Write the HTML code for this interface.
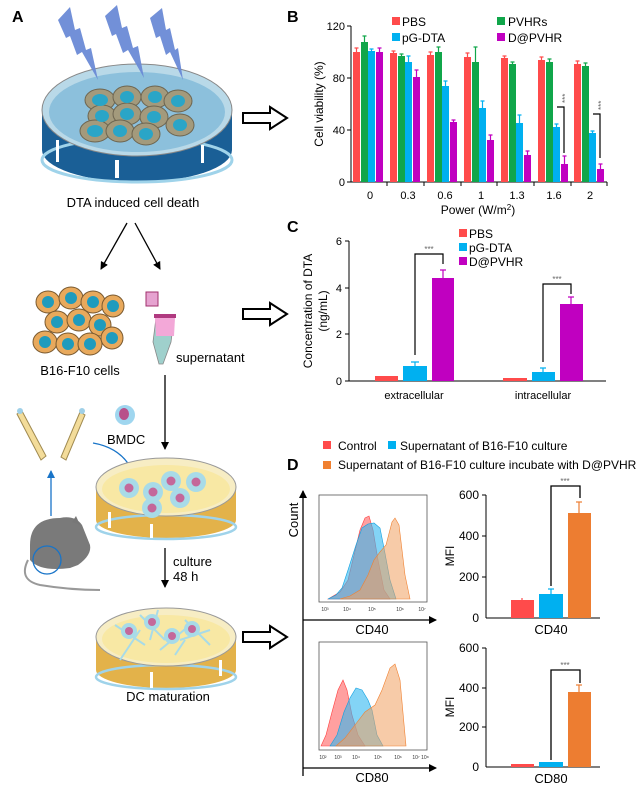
<!DOCTYPE html>
<html><head><meta charset="utf-8"><style>
html,body{margin:0;padding:0;background:#fff}
svg{display:block;font-family:"Liberation Sans",Arial,sans-serif}
</style></head><body>
<svg width="639" height="793" viewBox="0 0 639 793" xmlns="http://www.w3.org/2000/svg">
<defs>
<marker id="ah" markerWidth="8" markerHeight="8" refX="7" refY="4" orient="auto" markerUnits="userSpaceOnUse"><path d="M0,0 L8,4 L0,8 Z" fill="#000"/></marker>
<marker id="ahb" markerWidth="8" markerHeight="8" refX="7" refY="4" orient="auto" markerUnits="userSpaceOnUse"><path d="M0,0 L8,4 L0,8 Z" fill="#1874c8"/></marker>
</defs>
<text x="12" y="22" font-size="16" font-weight="bold">A</text>
<text x="287" y="22" font-size="16" font-weight="bold">B</text>
<text x="287" y="232" font-size="16" font-weight="bold">C</text>
<text x="287" y="470" font-size="16" font-weight="bold">D</text>

<path d="M42,112 L42,150 A95,32 0 0 0 232,150 L232,112 Z" fill="#1a5f96"/>
<ellipse cx="137" cy="160" rx="95" ry="22" fill="none" stroke="#9fd3ea" stroke-width="3"/>
<rect x="56" y="140" width="3" height="22" fill="#fff"/><rect x="115" y="160" width="4" height="18" fill="#fff"/><rect x="201" y="145" width="3" height="18" fill="#fff"/>
<ellipse cx="137" cy="110" rx="95" ry="46" fill="#b9d9e8" stroke="#888" stroke-width="1"/>
<ellipse cx="137" cy="112" rx="88" ry="40" fill="#8cc0dc"/>
<g fill="#a39a7c" stroke="#6d6550" stroke-width="1">
<ellipse cx="100" cy="100" rx="15" ry="11"/><ellipse cx="127" cy="97" rx="14" ry="11"/><ellipse cx="155" cy="97" rx="14" ry="11"/><ellipse cx="178" cy="101" rx="14" ry="11"/>
<ellipse cx="102" cy="116" rx="14" ry="11"/><ellipse cx="127" cy="114" rx="14" ry="11"/><ellipse cx="154" cy="117" rx="14" ry="11"/><ellipse cx="180" cy="125" rx="14" ry="11"/>
<ellipse cx="95" cy="131" rx="15" ry="11"/><ellipse cx="120" cy="131" rx="14" ry="11"/><ellipse cx="146" cy="134" rx="14" ry="11"/>
</g>
<g fill="#2aa5c7">
<ellipse cx="100" cy="100" rx="8" ry="6"/><ellipse cx="127" cy="97" rx="7" ry="6"/><ellipse cx="155" cy="97" rx="7" ry="6"/><ellipse cx="178" cy="101" rx="7" ry="6"/>
<ellipse cx="102" cy="116" rx="7" ry="6"/><ellipse cx="127" cy="114" rx="7" ry="6"/><ellipse cx="154" cy="117" rx="7" ry="6"/><ellipse cx="180" cy="125" rx="7" ry="6"/>
<ellipse cx="95" cy="131" rx="8" ry="6"/><ellipse cx="120" cy="131" rx="7" ry="6"/><ellipse cx="146" cy="134" rx="7" ry="6"/>
</g>
<g fill="#6b8bd6" opacity="0.95">
<path d="M58,20 L70,7 L75,30 L80,28 L86,50 L91,48 L98,80 L82,52 L77,55 L70,36 L66,38 Z"/>
<path d="M105,16 L117,5 L122,28 L127,26 L133,48 L138,46 L144,78 L128,50 L123,53 L116,34 L112,36 Z"/>
<path d="M150,18 L162,8 L166,30 L170,28 L175,50 L178,48 L183,80 L170,52 L166,55 L160,36 L156,38 Z"/>
</g>
<text x="133" y="207" font-size="13" text-anchor="middle">DTA induced cell death</text>
<line x1="127" y1="223" x2="101" y2="269" stroke="#000" stroke-width="1.3" marker-end="url(#ah)"/>
<line x1="135" y1="223" x2="160" y2="269" stroke="#000" stroke-width="1.3" marker-end="url(#ah)"/>
<g fill="#e8a95c" stroke="#7a5a30" stroke-width="1">
<ellipse cx="48" cy="302" rx="12" ry="11"/><ellipse cx="71" cy="298" rx="12" ry="11"/><ellipse cx="93" cy="302" rx="12" ry="11"/><ellipse cx="113" cy="306" rx="11" ry="11"/>
<ellipse cx="57" cy="322" rx="12" ry="11"/><ellipse cx="79" cy="320" rx="12" ry="11"/><ellipse cx="100" cy="325" rx="11" ry="11"/>
<ellipse cx="45" cy="342" rx="12" ry="11"/><ellipse cx="68" cy="344" rx="12" ry="11"/><ellipse cx="90" cy="344" rx="12" ry="11"/><ellipse cx="112" cy="338" rx="11" ry="11"/>
</g>
<g fill="#1f9bbd">
<circle cx="48" cy="302" r="6"/><circle cx="71" cy="298" r="6"/><circle cx="93" cy="302" r="6"/><circle cx="113" cy="306" r="6"/>
<circle cx="57" cy="322" r="6"/><circle cx="79" cy="320" r="6"/><circle cx="100" cy="325" r="6"/>
<circle cx="45" cy="342" r="6"/><circle cx="68" cy="344" r="6"/><circle cx="90" cy="344" r="6"/><circle cx="112" cy="338" r="6"/>
</g>
<text x="80" y="375" font-size="13" text-anchor="middle">B16-F10 cells</text>
<rect x="146" y="292" width="12" height="14" fill="#e6a3d0" stroke="#a0306c" stroke-width="1"/>
<path d="M156,318 L174,318 L171,342 L163,364 L159,364 L153,342 Z" fill="#9fd0cc" stroke="#888" stroke-width="0.8"/>
<path d="M155,318 L175,318 L174,336 L156,336 Z" fill="#f3a8d8"/>
<rect x="154" y="314" width="22" height="4" fill="#b03a80"/>
<text x="176" y="362" font-size="13">supernatant</text>
<line x1="165" y1="375" x2="165" y2="449" stroke="#000" stroke-width="1.3" marker-end="url(#ah)"/>
<g stroke="#a08a50" stroke-width="1" fill="#f3dc9a">
<path d="M17,414 L22,411 L46,456 L41,460 Z"/>
<path d="M80,412 L85,415 L66,460 L61,457 Z"/>
</g>
<circle cx="20" cy="411" r="3" fill="#9fd0e8"/><circle cx="82" cy="411" r="3" fill="#9fd0e8"/>
<circle cx="125" cy="415" r="10" fill="#9fd6ef"/><ellipse cx="124" cy="414" rx="5" ry="6" fill="#b8508a"/>
<text x="107" y="444" font-size="13">BMDC</text>
<path d="M93,443 Q122,448 133,472" fill="none" stroke="#1874c8" stroke-width="1.3" marker-end="url(#ahb)"/>
<line x1="51" y1="516" x2="51" y2="471" stroke="#1874c8" stroke-width="1.3" marker-end="url(#ahb)"/>
<path d="M30,545 Q30,518 60,518 Q75,515 82,525 L90,545 Q92,555 78,565 L70,568 Q40,572 30,560 Z" fill="#7a7a7a"/>
<path d="M72,522 L76,516 L80,525 Z" fill="#777"/>
<path d="M28,560 Q18,580 40,585 Q70,590 100,590" fill="none" stroke="#999" stroke-width="2"/>
<circle cx="47" cy="560" r="14" fill="none" stroke="#1874c8" stroke-width="1.3"/>
<path d="M96,487 L96,520 A70,18 0 0 0 236,520 L236,487 Z" fill="#e3b24a"/>
<ellipse cx="166" cy="527" rx="70" ry="12" fill="none" stroke="#9fd3ea" stroke-width="2.5"/>
<rect x="108" y="512" width="3" height="16" fill="#fff"/><rect x="150" y="524" width="3" height="14" fill="#fff"/>
<ellipse cx="166" cy="487" rx="70" ry="29" fill="#f7edc4" stroke="#999" stroke-width="1"/>
<ellipse cx="166" cy="489" rx="64" ry="24" fill="#f8e8a4"/>
<g fill="#a8dbe8"><circle cx="129" cy="488" r="10"/><circle cx="153" cy="492" r="10"/><circle cx="171" cy="481" r="10"/><circle cx="196" cy="482" r="10"/><circle cx="180" cy="498" r="10"/><circle cx="152" cy="508" r="10"/></g>
<g fill="#c4689a"><circle cx="129" cy="488" r="4.5"/><circle cx="153" cy="492" r="4.5"/><circle cx="171" cy="481" r="4.5"/><circle cx="196" cy="482" r="4.5"/><circle cx="180" cy="498" r="4.5"/><circle cx="152" cy="508" r="4.5"/></g>
<line x1="165" y1="548" x2="165" y2="587" stroke="#000" stroke-width="1.3" marker-end="url(#ah)"/>
<text x="173" y="566" font-size="13">culture</text>
<text x="173" y="581" font-size="13">48 h</text>
<path d="M96,637 L96,670 A70,18 0 0 0 236,670 L236,637 Z" fill="#e3b24a"/>
<ellipse cx="166" cy="677" rx="70" ry="12" fill="none" stroke="#9fd3ea" stroke-width="2.5"/>
<rect x="150" y="672" width="3" height="16" fill="#fff"/><rect x="219" y="660" width="3" height="16" fill="#fff"/>
<ellipse cx="166" cy="637" rx="70" ry="29" fill="#f7edc4" stroke="#999" stroke-width="1"/>
<ellipse cx="166" cy="639" rx="64" ry="24" fill="#f8e8a4"/>
<g stroke="#a8dbe8" stroke-width="2"><line x1="115" y1="625" x2="145" y2="645"/><line x1="120" y1="660" x2="140" y2="630"/><line x1="140" y1="615" x2="165" y2="640"/><line x1="158" y1="610" x2="150" y2="640"/><line x1="160" y1="650" x2="190" y2="625"/><line x1="175" y1="655" x2="185" y2="640"/><line x1="180" y1="640" x2="210" y2="630"/><line x1="185" y1="620" x2="210" y2="645"/></g>
<g fill="#a8dbe8"><circle cx="129" cy="631" r="8"/><circle cx="152" cy="622" r="8"/><circle cx="172" cy="636" r="8"/><circle cx="192" cy="629" r="8"/></g>
<g fill="#c4689a"><circle cx="129" cy="631" r="4"/><circle cx="152" cy="622" r="4"/><circle cx="172" cy="636" r="4"/><circle cx="192" cy="629" r="4"/></g>
<text x="168" y="701" font-size="13" text-anchor="middle">DC maturation</text>
<g fill="#fff" stroke="#000" stroke-width="2">
<path d="M243,113 L270,113 L270,107 L287,118 L270,129 L270,123 L243,123 Z"/>
<path d="M243,309 L270,309 L270,303 L287,314 L270,325 L270,319 L243,319 Z"/>
<path d="M243,632 L270,632 L270,626 L287,637 L270,648 L270,642 L243,642 Z"/>
</g>

<g font-size="12">
<rect x="392" y="17" width="8" height="8" fill="#ff4b4b"/><text x="402" y="26">PBS</text>
<rect x="497" y="17" width="8" height="8" fill="#10a64a"/><text x="508" y="26">PVHRs</text>
<rect x="392" y="33" width="8" height="8" fill="#00b0f0"/><text x="402" y="42">pG-DTA</text>
<rect x="497" y="33" width="8" height="8" fill="#c000c0"/><text x="508" y="42">D@PVHR</text>
</g>
<g font-size="11" text-anchor="end">
<text x="345" y="30">120</text><text x="345" y="82">80</text><text x="345" y="134">40</text><text x="345" y="186">0</text>
</g>
<g stroke="#000" stroke-width="1" fill="none">
<line x1="351" y1="26" x2="351" y2="182"/><line x1="351" y1="182" x2="607" y2="182"/>
<line x1="347" y1="26" x2="351" y2="26"/><line x1="347" y1="78" x2="351" y2="78"/><line x1="347" y1="130" x2="351" y2="130"/><line x1="347" y1="182" x2="351" y2="182"/>
<line x1="387" y1="182" x2="387" y2="186"/><line x1="424" y1="182" x2="424" y2="186"/><line x1="461" y1="182" x2="461" y2="186"/><line x1="497" y1="182" x2="497" y2="186"/><line x1="534" y1="182" x2="534" y2="186"/><line x1="571" y1="182" x2="571" y2="186"/><line x1="607" y1="182" x2="607" y2="186"/>
</g>
<text x="323" y="104" font-size="12" text-anchor="middle" transform="rotate(-90 323 104)">Cell viability (%)</text>
<g font-size="11" text-anchor="middle">
<text x="370" y="199">0</text><text x="408" y="199">0.3</text><text x="445" y="199">0.6</text><text x="481" y="199">1</text><text x="517" y="199">1.3</text><text x="554" y="199">1.6</text><text x="590" y="199">2</text>
</g>
<text x="478" y="214" font-size="12" text-anchor="middle">Power (W/m<tspan font-size="8" dy="-4">2</tspan><tspan dy="4">)</tspan></text>

<g font-size="12">
<rect x="459" y="229" width="8" height="8" fill="#ff4b4b"/><text x="469" y="238">PBS</text>
<rect x="459" y="243" width="8" height="8" fill="#00b0f0"/><text x="469" y="252">pG-DTA</text>
<rect x="459" y="257" width="8" height="8" fill="#c000c0"/><text x="469" y="266">D@PVHR</text>
</g>
<g stroke="#000" stroke-width="1">
<line x1="349" y1="241" x2="349" y2="381"/><line x1="349" y1="381" x2="606" y2="381"/>
<line x1="345" y1="241" x2="349" y2="241"/><line x1="345" y1="288" x2="349" y2="288"/><line x1="345" y1="334" x2="349" y2="334"/><line x1="345" y1="381" x2="349" y2="381"/>
</g>
<g font-size="11" text-anchor="end"><text x="342" y="245">6</text><text x="342" y="292">4</text><text x="342" y="338">2</text><text x="342" y="385">0</text></g>
<text x="312" y="311" font-size="12" text-anchor="middle" transform="rotate(-90 312 311)">Concentration of DTA</text>
<text x="327" y="311" font-size="12" text-anchor="middle" transform="rotate(-90 327 311)">(ng/mL)</text>
<g font-size="11" text-anchor="middle"><text x="414" y="399">extracellular</text><text x="543" y="399">intracellular</text></g>

<g font-size="12">
<rect x="323" y="441" width="8" height="8" fill="#ff4b4b"/><text x="338" y="450">Control</text>
<rect x="388" y="441" width="8" height="8" fill="#00b0f0"/><text x="400" y="450">Supernatant of B16-F10 culture</text>
<rect x="323" y="461" width="8" height="8" fill="#f08030"/><text x="338" y="469">Supernatant of B16-F10 culture incubate with D@PVHR</text>
</g>
<line x1="303" y1="776" x2="303" y2="491" stroke="#000" stroke-width="1.3" marker-end="url(#ah)"/>
<line x1="303" y1="620" x2="436" y2="620" stroke="#000" stroke-width="1.3" marker-end="url(#ah)"/>
<line x1="303" y1="768" x2="436" y2="768" stroke="#000" stroke-width="1.3" marker-end="url(#ah)"/>
<text x="298" y="520" font-size="13" text-anchor="middle" transform="rotate(-90 298 520)">Count</text>
<text x="372" y="634" font-size="13" text-anchor="middle">CD40</text>
<text x="372" y="782" font-size="13" text-anchor="middle">CD80</text>
<rect x="319" y="495" width="108" height="107" fill="none" stroke="#555" stroke-width="0.8"/>
<rect x="319" y="642" width="108" height="108" fill="none" stroke="#555" stroke-width="0.8"/>
<path d="M328,599 L340,592 L348,580 L354,555 L360,530 L365,518 L369,516 L373,530 L378,560 L384,590 L390,599 Z" fill="#ff6060" fill-opacity="0.6" stroke="#ff4040" stroke-width="0.6"/>
<path d="M328,599 L336,595 L342,588 L348,570 L356,545 L362,528 L368,524 L374,523 L380,528 L384,548 L390,580 L396,599 Z" fill="#30b8f0" fill-opacity="0.6" stroke="#10a0e0" stroke-width="0.6"/>
<path d="M340,599 L350,596 L360,590 L368,575 L374,560 L380,552 L386,545 L392,522 L395,518 L399,525 L405,575 L410,599 Z" fill="#f0a060" fill-opacity="0.55" stroke="#f08030" stroke-width="0.6"/>
<path d="M321,746 L326,735 L332,712 L338,690 L343,680 L347,690 L352,715 L358,735 L365,746 Z" fill="#ff6060" fill-opacity="0.6" stroke="#ff4040" stroke-width="0.6"/>
<path d="M330,746 L337,735 L344,712 L350,698 L356,688 L362,690 L368,700 L372,710 L377,735 L383,746 Z" fill="#30b8f0" fill-opacity="0.6" stroke="#10a0e0" stroke-width="0.6"/>
<path d="M336,746 L345,738 L355,725 L365,712 L375,705 L382,690 L390,668 L395,664 L400,680 L406,746 Z" fill="#f0a060" fill-opacity="0.55" stroke="#f08030" stroke-width="0.6"/>
<g font-size="5" fill="#333" text-anchor="middle">
<text x="325" y="611">10³</text><text x="347" y="611">10⁴</text><text x="372" y="611">10⁵</text><text x="400" y="611">10⁶</text><text x="422" y="611">10⁷</text>
<text x="323" y="759">10²</text><text x="338" y="759">10³</text><text x="356" y="759">10⁴</text><text x="378" y="759">10⁵</text><text x="398" y="759">10⁶</text><text x="416" y="759">10⁷</text><text x="425" y="759">10⁸</text>
</g>
<g stroke="#000" stroke-width="1">
<line x1="486" y1="495" x2="486" y2="618"/><line x1="486" y1="618" x2="600" y2="618"/>
<line x1="482" y1="495" x2="486" y2="495"/><line x1="482" y1="536" x2="486" y2="536"/><line x1="482" y1="577" x2="486" y2="577"/>
<line x1="486" y1="648" x2="486" y2="767"/><line x1="486" y1="767" x2="600" y2="767"/>
<line x1="482" y1="648" x2="486" y2="648"/><line x1="482" y1="688" x2="486" y2="688"/><line x1="482" y1="727" x2="486" y2="727"/>
</g>
<g font-size="12" text-anchor="end">
<text x="479" y="499">600</text><text x="479" y="540">400</text><text x="479" y="581">200</text><text x="479" y="622">0</text>
<text x="479" y="652">600</text><text x="479" y="692">400</text><text x="479" y="731">200</text><text x="479" y="771">0</text>
</g>
<text x="454" y="556" font-size="12" text-anchor="middle" transform="rotate(-90 454 556)">MFI</text>
<text x="454" y="707" font-size="12" text-anchor="middle" transform="rotate(-90 454 707)">MFI</text>
<text x="551" y="634" font-size="13" text-anchor="middle">CD40</text>
<text x="551" y="783" font-size="13" text-anchor="middle">CD80</text>
<rect x="511" y="600" width="23" height="18" fill="#ff4b4b"/><rect x="539" y="594" width="24" height="24" fill="#00b0f0"/><rect x="568" y="513" width="23" height="105" fill="#ed7d31"/>
<g stroke-width="1.2"><line x1="522" y1="598" x2="522" y2="600" stroke="#ff4b4b"/><line x1="551" y1="589" x2="551" y2="594" stroke="#00b0f0"/><line x1="548" y1="589" x2="554" y2="589" stroke="#00b0f0"/><line x1="579" y1="502" x2="579" y2="513" stroke="#ed7d31"/><line x1="576" y1="502" x2="582" y2="502" stroke="#ed7d31"/></g>
<path d="M551,586 L551,486 L580,486 L580,498" fill="none" stroke="#000" stroke-width="1.3"/>
<text x="565" y="484" font-size="8" fill="#666" text-anchor="middle">***</text>
<rect x="511" y="764" width="23" height="3" fill="#ff4b4b"/><rect x="539" y="762" width="24" height="5" fill="#00b0f0"/><rect x="568" y="692" width="23" height="75" fill="#ed7d31"/>
<g stroke-width="1.2"><line x1="579" y1="685" x2="579" y2="692" stroke="#ed7d31"/><line x1="576" y1="685" x2="582" y2="685" stroke="#ed7d31"/></g>
<path d="M551,760 L551,670 L580,670 L580,683" fill="none" stroke="#000" stroke-width="1.3"/>
<text x="565" y="668" font-size="8" fill="#666" text-anchor="middle">***</text>

<g>
<rect x="353" y="52" width="7" height="130" fill="#ff4b4b"/><rect x="361" y="42" width="7" height="140" fill="#10a64a"/><rect x="368" y="51" width="7" height="131" fill="#00b0f0"/><rect x="376" y="52" width="7" height="130" fill="#c000c0"/>
<rect x="390" y="53" width="7" height="129" fill="#ff4b4b"/><rect x="398" y="56" width="7" height="126" fill="#10a64a"/><rect x="405" y="62" width="7" height="120" fill="#00b0f0"/><rect x="413" y="77" width="7" height="105" fill="#c000c0"/>
<rect x="427" y="55" width="7" height="127" fill="#ff4b4b"/><rect x="435" y="52" width="7" height="130" fill="#10a64a"/><rect x="442" y="86" width="7" height="96" fill="#00b0f0"/><rect x="450" y="122" width="7" height="60" fill="#c000c0"/>
<rect x="464" y="57" width="7" height="125" fill="#ff4b4b"/><rect x="472" y="62" width="7" height="120" fill="#10a64a"/><rect x="479" y="108" width="7" height="74" fill="#00b0f0"/><rect x="487" y="140" width="7" height="42" fill="#c000c0"/>
<rect x="501" y="58" width="7" height="124" fill="#ff4b4b"/><rect x="509" y="64" width="7" height="118" fill="#10a64a"/><rect x="516" y="123" width="7" height="59" fill="#00b0f0"/><rect x="524" y="155" width="7" height="27" fill="#c000c0"/>
<rect x="538" y="60" width="7" height="122" fill="#ff4b4b"/><rect x="546" y="62" width="7" height="120" fill="#10a64a"/><rect x="553" y="127" width="7" height="55" fill="#00b0f0"/><rect x="561" y="164" width="7" height="18" fill="#c000c0"/>
<rect x="574" y="64" width="7" height="118" fill="#ff4b4b"/><rect x="582" y="66" width="7" height="116" fill="#10a64a"/><rect x="589" y="133" width="7" height="49" fill="#00b0f0"/><rect x="597" y="169" width="7" height="13" fill="#c000c0"/>
</g>
<g stroke-width="1.2" fill="none">
<path d="M356.5,52V48M354.5,48H358.5 M393.5,53V51M391.5,51H395.5 M430.5,55V52M428.5,52H432.5 M467.5,57V53M465.5,53H469.5 M504.5,58V56M502.5,56H506.5 M541.5,60V57M539.5,57H543.5 M577.5,64V61M575.5,61H579.5" stroke="#ff4b4b"/>
<path d="M364.5,42V36M362.5,36H366.5 M401.5,56V54M399.5,54H403.5 M438.5,52V47M436.5,47H440.5 M475.5,62V47M473.5,47H477.5 M512.5,64V62M510.5,62H514.5 M549.5,62V59M547.5,59H551.5 M585.5,66V63M583.5,63H587.5" stroke="#10a64a"/>
<path d="M371.5,51V49M369.5,49H373.5 M408.5,62V56M406.5,56H410.5 M445.5,86V81M443.5,81H447.5 M482.5,108V101M480.5,101H484.5 M519.5,123V115M517.5,115H521.5 M556.5,127V124M554.5,124H558.5 M592.5,133V131M590.5,131H594.5" stroke="#00b0f0"/>
<path d="M379.5,52V48M377.5,48H381.5 M416.5,77V70M414.5,70H418.5 M453.5,122V120M451.5,120H455.5 M490.5,140V135M488.5,135H492.5 M527.5,155V151M525.5,151H529.5 M564.5,164V156M562.5,156H566.5 M600.5,169V164M598.5,164H602.5" stroke="#c000c0"/>
</g>
<path d="M557,107 L564,107 L564,153" fill="none" stroke="#000" stroke-width="1.2"/>
<path d="M593,114 L600,114 L600,158" fill="none" stroke="#000" stroke-width="1.2"/>
<text x="568" y="103" font-size="8" fill="#666" transform="rotate(-90 568 103)">***</text>
<text x="604" y="110" font-size="8" fill="#666" transform="rotate(-90 604 110)">***</text>

<rect x="375" y="376" width="23" height="5" fill="#ff4b4b"/><rect x="403" y="366" width="24" height="15" fill="#00b0f0"/><rect x="432" y="278" width="22" height="103" fill="#c000c0"/>
<rect x="503" y="378" width="24" height="3" fill="#ff4b4b"/><rect x="532" y="372" width="23" height="9" fill="#00b0f0"/><rect x="560" y="304" width="23" height="77" fill="#c000c0"/>
<g stroke-width="1.2">
<path d="M415,366V362M411,362H419" stroke="#00b0f0"/><path d="M443,278V270M440,270H446" stroke="#c000c0"/>
<path d="M543,372V368M540,368H546" stroke="#00b0f0"/><path d="M571,304V297M568,297H574" stroke="#c000c0"/>
</g>
<path d="M415,355 L415,254 L443,254 L443,264" fill="none" stroke="#000" stroke-width="1.2"/>
<path d="M543,362 L543,284 L571,284 L571,294" fill="none" stroke="#000" stroke-width="1.2"/>
<text x="429" y="252" font-size="8" fill="#666" text-anchor="middle">***</text>
<text x="557" y="282" font-size="8" fill="#666" text-anchor="middle">***</text>
</svg>
</body></html>
